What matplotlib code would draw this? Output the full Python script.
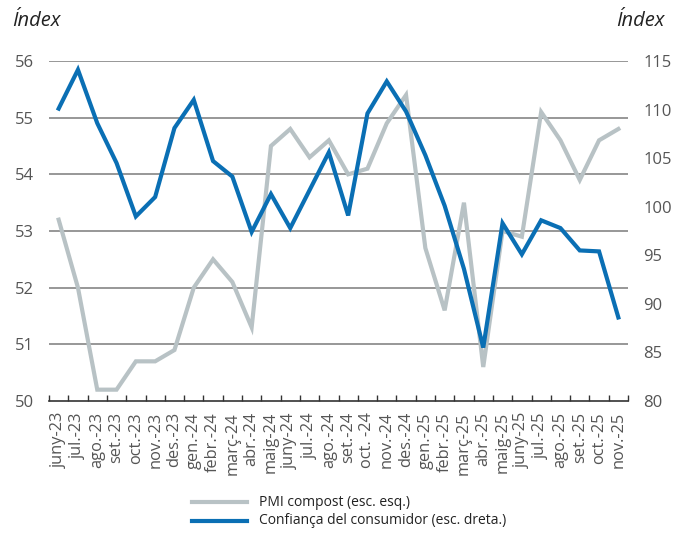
import matplotlib
matplotlib.use("Agg")
import matplotlib.pyplot as plt
import numpy as np

categories = ["juny-23", "jul.-23", "ago.-23", "set.-23", "oct.-23", "nov.-23", "des.-23",
              "gen.-24", "febr.-24", "març-24", "abr.-24", "maig-24", "juny-24", "jul.-24",
              "ago.-24", "set.-24", "oct. -24", "nov.-24", "des.-24", "gen.-25", "febr.-25",
              "març-25", "abr.-25", "maig-25", "juny-25", "jul.-25", "ago.-25", "set.-25",
              "oct.-25", "nov.-25"]

pmi = [53.2, 52.0, 50.2, 50.2, 50.7, 50.7, 50.9, 52.0, 52.5, 52.1, 51.3, 54.5, 54.8, 54.3,
       54.6, 54.0, 54.1, 54.9, 55.4, 52.7, 51.6, 53.5, 50.6, 53.0, 52.9, 55.1, 54.6, 53.9,
       54.6, 54.8]

confianca = [110.1, 114.1, 108.6, 104.5, 99.0, 101.0, 108.1, 111.0, 104.7, 103.1, 97.4,
             101.3, 97.8, 101.7, 105.6, 99.1, 109.6, 112.9, 109.8, 105.3, 100.1, 93.6, 85.5,
             98.3, 95.1, 98.6, 97.8, 95.5, 95.4, 88.6]

left_ticks = [50, 51, 52, 53, 54, 55, 56]
right_ticks = [80, 85, 90, 95, 100, 105, 110, 115]

GRAY = "#b8c2c5"
BLUE = "#0a6fb4"
TXT = "#555555"
plt.rcParams['font.family'] = ['Open Sans', 'DejaVu Sans']

fig = plt.figure(figsize=(6.9, 5.36), dpi=100)
ax = fig.add_axes([49/690, 1-401/536, (628-49)/690, (401-61)/536])
ax2 = ax.twinx()

x = np.arange(len(categories))
ax.plot(x, pmi, color=GRAY, lw=3, solid_joinstyle='miter', zorder=3)
ax2.plot(x, confianca, color=BLUE, lw=3, solid_joinstyle='miter', zorder=4)

ax.set_xlim(-0.5, len(categories) - 0.5)
ax.set_ylim(50, 56)
ax2.set_ylim(80, 115)

for v in left_ticks[1:]:
    ax.axhline(v, color="#858585", lw=1.2, zorder=1)

ax.set_yticks(left_ticks)
ax2.set_yticks(right_ticks)
ax.tick_params(axis='y', length=0, pad=11, labelsize=12, labelcolor=TXT)
ax2.tick_params(axis='y', length=0, pad=11, labelsize=12, labelcolor=TXT)

ax.set_xticks(np.arange(len(categories) + 1) - 0.5)
ax.set_xticklabels([])
ax.set_xticks(x, minor=True)
ax.set_xticklabels(categories, minor=True, rotation=90, fontsize=11.8, color=TXT)
ax.tick_params(axis='x', which='major', direction='in', length=4, width=1, color='#333333')
ax.tick_params(axis='x', which='minor', length=0, pad=8)

for a in (ax, ax2):
    for s in ('top', 'left', 'right'):
        a.spines[s].set_visible(False)
    a.spines['bottom'].set_color('#333333')
    a.spines['bottom'].set_linewidth(1.2)
ax2.spines['bottom'].set_visible(False)

fig.text(12/690, 1-21/536, "Índex", fontsize=14.5, style='italic', color='#222222', va='center', ha='left')
fig.text(665/690, 1-21/536, "Índex", fontsize=14.5, style='italic', color='#222222', va='center', ha='right')

# legend
lx0, lx1 = 192/690, 247/690
for yy, col, lab in [(502, GRAY, "PMI compost (esc. esq.)"),
                     (521, BLUE, "Confiança del consumidor (esc. dreta.)")]:
    fy = 1 - yy/536
    fig.add_artist(matplotlib.lines.Line2D([lx0, lx1], [fy, fy], color=col, lw=3,
                                           transform=fig.transFigure))
    fig.text(259/690, fy, lab, fontsize=10, color='#222222', va='center', ha='left')

fig.savefig("out.png", dpi=100)
